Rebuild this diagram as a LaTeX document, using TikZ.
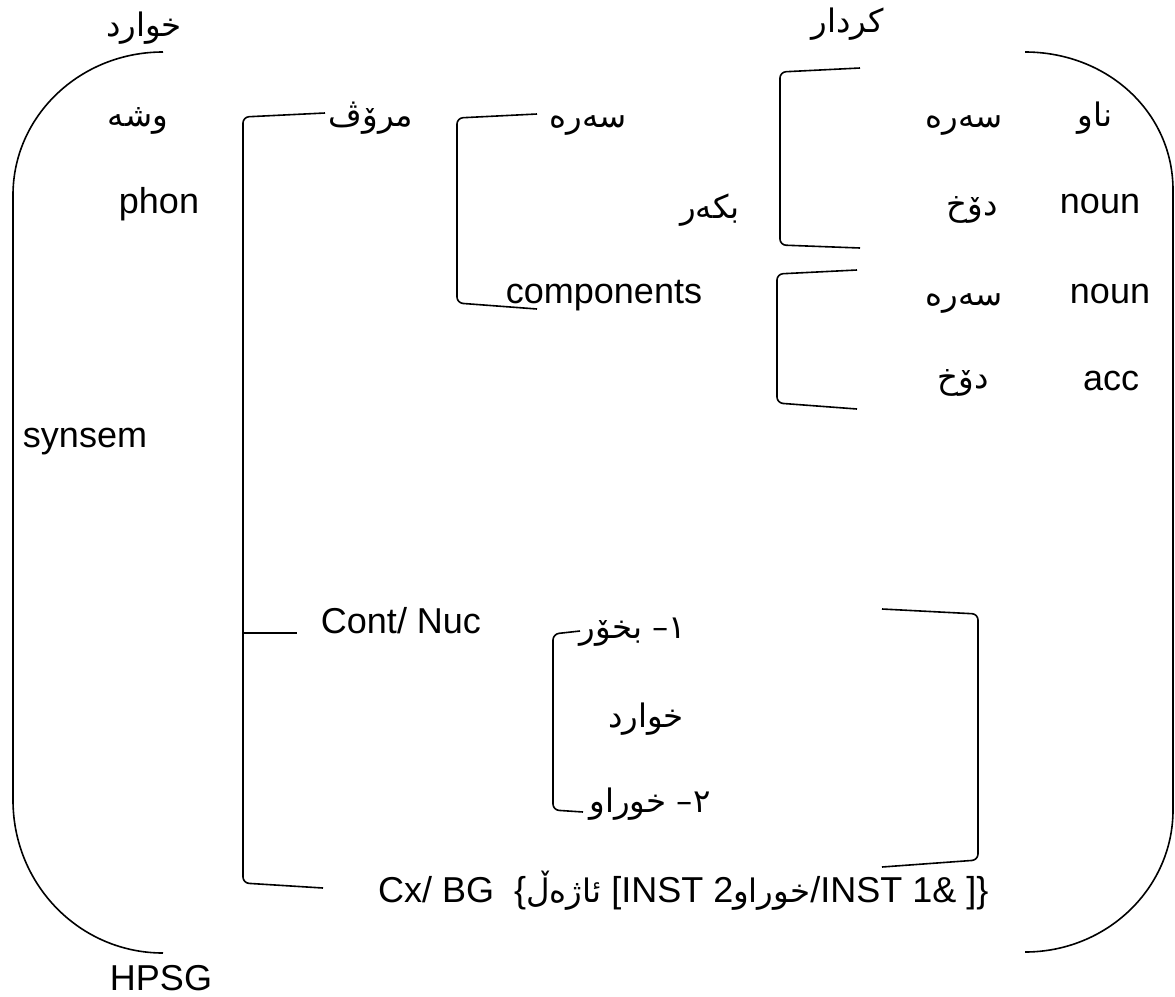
\documentclass[tikz,border=0pt]{standalone}
\usepackage{fontspec}
\setmainfont{Liberation Sans}
\newfontfamily\ar[Script=Arabic,Scale=0.9]{DejaVu Sans}
\TeXXeTstate=1
\newcommand\RL[1]{\beginR #1\endR}
\tikzset{
  lat/.style={inner sep=0pt, anchor=base, font=\fontsize{36}{40}\selectfont},
  art/.style={inner sep=0pt, anchor=base, yshift=-4pt, font=\fontsize{36}{40}\selectfont\ar},
  ln/.style={line width=1.6pt, line join=round},
  brk/.style={ln, rounded corners=6pt}
}
\begin{document}
\begin{tikzpicture}[x=1pt,y=-1pt]
\useasboundingbox (0,0) rectangle (1175,996);
% big parentheses
\draw[ln] (163,52) .. controls (80,52) and (13,116) .. (13,195) -- (13,800) .. controls (13,885) and (80,953) .. (163,953);
\draw[ln] (1025,52) .. controls (1107,52) and (1173,112) .. (1173,190) -- (1173,810) .. controls (1173,888) and (1107,952) .. (1025,952);
% brackets
\draw[brk] (325,113) -- (243,117) -- (243,883) -- (323,888);
\draw[ln] (243,633) -- (297,633);
\draw[brk] (537,114) -- (457,118) -- (457,303) -- (537,309);
\draw[brk] (860,68) -- (780,72) -- (780,245) -- (860,248);
\draw[brk] (857,270) -- (777,274) -- (777,403) -- (857,409);
\draw[brk] (580,631) -- (553,634) -- (553,810) -- (583,812);
\draw[brk] (882,609) -- (978,614) -- (978,860) -- (882,867);
% Arabic labels
\node[art] (t1) at (144,32) {\RL{خوارد}};
\node[art] (t2) at (848,28) {\RL{کردار}};
\node[art] (w) at (138,122) {\RL{وشه}};
\node[art] (m) at (371,122) {\RL{مرۆڤ}};
\node[art] (s1) at (588,123) {\RL{سەرە}};
\node[art] (b) at (710,214) {\RL{بکەر}};
\node[art] (s2) at (964,123) {\RL{سەرە}};
\node[art] (n) at (1095,122) {\RL{ناو}};
\node[art] (d1) at (972,211) {\RL{دۆخ}};
\node[art] (s3) at (964,301) {\RL{سەرە}};
\node[art] (d2) at (963,384) {\RL{دۆخ}};
\node[art] (c1) at (633,634) {\RL{١– بخۆر}};
\node[art] (c2) at (646,723) {\RL{خوارد}};
\node[art] (c3) at (650,808) {\RL{٢– خوراو}};
% Latin labels
\node[lat] (phon) at (159,213) {phon};
\node[lat] (syn) at (85,447) {synsem};
\node[lat] (n1) at (1100,213) {noun};
\node[lat] (n2) at (1110,303) {noun};
\node[lat] (acc) at (1111,390) {acc};
\node[lat] (comp) at (604,303) {components};
\node[lat] (cont) at (401,633) {Cont/ Nuc};
\node[lat] (hpsg) at (161,990) {HPSG};
\node[lat, anchor=base west] (cx) at (378,902) {Cx/ BG\ \ \{{\ar\RL{ئاژەڵ}}\ [INST 2{\ar\RL{خوراو}}/INST 1\& ]\}};
\end{tikzpicture}
\end{document}
